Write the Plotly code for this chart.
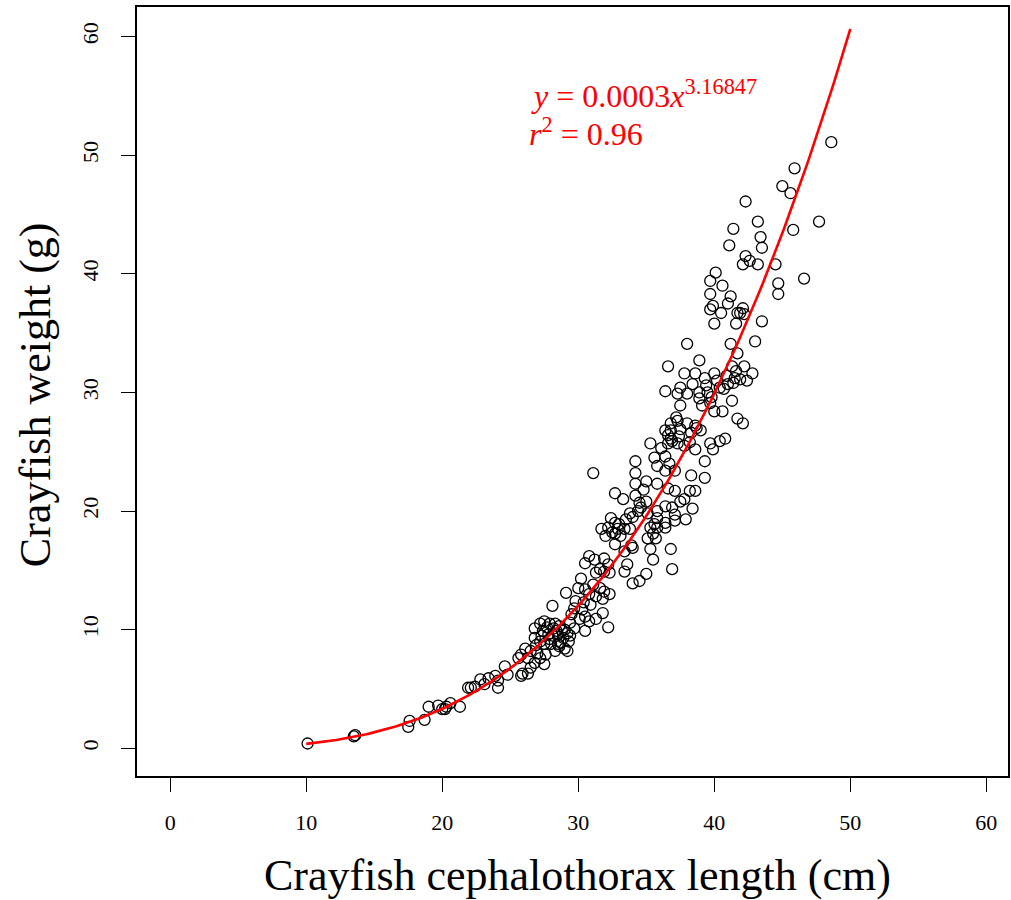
import plotly.graph_objects as go

LENGTH_CM = [
    10.1, 13.5, 13.6, 17.6, 17.5, 18.7, 19.0, 19.7, 20.0, 20.2, 20.6, 20.3, 21.3, 21.9, 22.1,
    32.7, 33.4, 34.0, 33.6, 33.4, 34.0, 30.8, 30.5, 31.2, 31.9, 32.2, 31.6, 31.3, 31.9, 32.3,
    30.2, 30.0, 30.5, 31.1, 31.6, 31.9, 32.3, 31.3, 31.8, 29.1, 30.8,
    28.1, 29.7, 30.3, 31.8, 30.5, 30.1, 30.8, 31.3, 32.2, 30.5, 29.7,
    26.8, 27.2, 27.5, 27.9, 28.3, 28.6, 29.0, 27.4, 27.8, 28.1, 28.5, 28.9, 29.2, 29.4,
    26.8, 27.2, 27.5, 28.0, 28.5, 29.0, 29.2, 26.5, 27.0, 27.6, 28.3,
    26.1, 25.8, 25.6, 26.3, 26.8, 27.5, 27.2, 26.5, 24.6, 24.8, 25.9, 26.3, 25.8,
    23.4, 23.9, 24.1, 22.8, 22.4, 23.1, 24.1,
    35.3, 36.1, 36.6, 37.3, 38.6, 31.1, 34.2, 34.2, 35.6, 36.4, 35.8, 36.4, 36.7, 37.1,
    39.3, 38.3, 39.3, 34.2, 35.0, 35.8, 36.6, 37.1, 38.2, 38.6, 32.7, 33.3, 34.2, 34.5,
    35.0, 34.6, 33.8, 35.1, 35.8, 36.4, 36.9, 37.1, 37.5, 37.8, 38.4, 37.9, 37.1, 35.8,
    35.6, 35.3, 35.8, 35.5, 35.1, 35.7, 36.4, 36.4, 32.4, 32.7, 31.7, 32.2, 32.9, 33.4,
    32.0, 32.7, 33.1, 33.8, 35.3, 35.5, 36.8, 36.9, 35.0, 34.5,
    38.0, 41.2, 43.0, 41.7, 36.6, 38.9, 37.8, 38.6, 39.3, 40.0, 41.3, 41.6, 42.2, 42.8,
    41.5, 41.9, 42.4, 36.4, 37.5, 37.3, 38.0, 38.4, 38.9, 39.5, 40.4, 40.7, 41.0, 37.5,
    38.9, 39.1, 39.7, 40.0, 40.6, 41.3, 41.7, 42.1, 36.8, 37.3, 38.0, 38.6, 39.0, 36.4,
    36.8, 37.5, 38.3, 36.8, 39.7, 40.4, 40.8, 39.9,
    42.3, 42.6, 42.1, 43.2, 44.5, 40.1, 39.7, 40.6, 44.7, 44.7, 46.6, 39.7, 41.2, 39.9,
    39.7, 40.5, 41.0, 41.7, 42.1, 41.9, 42.2, 40.0, 41.6, 43.5,
    45.9, 45.0, 45.6, 42.3, 47.7, 43.2, 41.4, 45.8, 43.4, 41.1, 43.5, 48.6,
    # points hidden inside the densest clusters (estimated)
    27.9, 28.4, 28.7, 27.3, 28.2, 28.8, 27.7, 29.3, 26.9, 28.6,
    33.0, 33.5, 32.5, 34.0, 34.8, 34.4, 33.9,
    36.9, 37.4, 37.8, 38.2, 36.6, 37.2, 38.7,
    39.4, 40.2, 40.9, 41.4, 39.8,
    29.8, 30.4, 29.5, 30.9, 29.4,
]
WEIGHT_G = [
    0.4, 1.0, 1.1, 2.3, 1.8, 2.4, 3.5, 3.6, 3.3, 3.3, 3.8, 3.5, 3.5, 5.1, 5.1,
    17.2, 16.6, 16.9, 15.5, 14.9, 13.9, 16.2, 15.6, 15.9, 16.0, 15.5, 15.1, 14.8, 14.9, 14.8,
    14.3, 13.5, 13.4, 13.8, 13.5, 13.2, 13.0, 12.8, 12.6, 13.1, 13.0,
    12.0, 11.8, 11.7, 11.4, 11.1, 10.9, 10.7, 10.9, 10.2, 9.9, 10.1,
    10.1, 10.5, 10.7, 10.5, 10.5, 10.3, 10.0, 9.9, 9.6, 9.5, 9.6, 9.3, 9.7, 9.5,
    9.3, 9.0, 8.8, 8.8, 8.8, 8.4, 8.2, 8.2, 8.0, 7.9, 8.2,
    8.4, 7.9, 7.6, 7.6, 7.2, 7.1, 7.6, 6.8, 6.9, 6.2, 6.3, 6.3, 6.1,
    5.9, 6.1, 5.7, 5.8, 5.2, 5.4, 5.1,
    25.7, 25.3, 25.7, 25.7, 25.2, 23.2, 24.2, 23.2, 24.5, 24.6, 23.8, 23.4, 24.0, 23.4,
    24.2, 23.0, 22.8, 22.3, 22.5, 22.3, 21.9, 21.7, 21.7, 21.7, 21.5, 21.0, 21.3, 20.7,
    20.8, 20.3, 19.8, 19.8, 20.0, 20.4, 20.3, 19.7, 20.8, 21.0, 20.2, 19.3, 19.2, 19.4,
    18.9, 18.6, 18.6, 18.1, 17.7, 17.7, 18.6, 19.0, 19.4, 19.0, 18.5, 18.6, 18.5, 18.5,
    17.9, 18.1, 17.9, 18.5, 16.8, 15.9, 16.8, 15.1, 14.7, 14.1,
    34.1, 34.1, 34.3, 33.3, 32.2, 32.7, 31.6, 31.6, 31.2, 31.6, 32.2, 31.8, 32.2, 31.6,
    31.2, 31.1, 31.0, 30.1, 30.4, 29.9, 29.9, 30.7, 30.0, 30.0, 30.4, 30.3, 30.7, 28.9,
    29.5, 28.9, 29.1, 28.4, 28.4, 29.3, 27.8, 27.4, 27.4, 27.6, 27.4, 27.2, 26.8, 26.8,
    26.8, 26.9, 26.6, 26.1, 25.7, 25.9, 26.1, 25.2,
    41.5, 41.1, 40.8, 40.8, 40.8, 40.1, 39.4, 39.0, 39.2, 38.3, 39.6, 38.3, 38.1, 37.3,
    37.0, 36.7, 37.5, 36.7, 37.1, 36.7, 36.6, 35.8, 35.8, 36.0,
    48.9, 47.4, 46.8, 46.1, 44.4, 44.4, 43.8, 43.7, 43.1, 42.4, 42.2, 51.1,
    9.2, 9.9, 8.9, 9.5, 10.1, 9.9, 10.2, 9.0, 8.7, 8.6,
    18.9, 19.3, 18.2, 19.5, 21.8, 20.0, 17.1,
    25.9, 26.3, 25.5, 25.8, 26.4, 27.9, 27.0,
    30.6, 31.0, 31.4, 30.8, 29.6,
    12.4, 12.3, 11.3, 12.1, 10.6,
]

# Fitted power model y = a * x^b (b from the printed equation; a unrounded)
FIT_A = 0.000251
FIT_B = 3.16847
FIT_X_START = 10
FIT_X_END = 50

X_TICKS = [0, 10, 20, 30, 40, 50, 60]
Y_TICKS = [0, 10, 20, 30, 40, 50, 60]

n_fit = 200
fit_x = [FIT_X_START + (FIT_X_END - FIT_X_START) * i / (n_fit - 1) for i in range(n_fit)]
fit_y = [FIT_A * xv ** FIT_B for xv in fit_x]

SERIF = "Liberation Serif, Times New Roman, serif"

fig = go.Figure()
fig.add_trace(go.Scatter(
    x=LENGTH_CM, y=WEIGHT_G, mode="markers",
    marker=dict(symbol="circle-open", size=11, color="black", line=dict(width=1.3, color="black")),
    showlegend=False, hoverinfo="skip",
))
fig.add_trace(go.Scatter(
    x=fit_x, y=fit_y, mode="lines",
    line=dict(color="#ff0000", width=2.6),
    showlegend=False, hoverinfo="skip",
))

axis_common = dict(
    showgrid=False, zeroline=False, showline=True, mirror=True,
    linecolor="black", linewidth=1.6,
    ticks="outside", ticklen=14, tickwidth=1.3, tickcolor="black",
    tickfont=dict(family=SERIF, size=22, color="black"),
)
fig.update_xaxes(range=[-2.44, 61.59], tickvals=X_TICKS, ticktext=[str(v) for v in X_TICKS],
                 ticklabelstandoff=12, **axis_common)
fig.update_yaxes(range=[-2.34, 62.5], tickvals=Y_TICKS, ticktext=[str(v) for v in Y_TICKS],
                 tickangle=-90, ticklabelstandoff=14, **axis_common)

fig.add_annotation(
    xref="paper", yref="paper", x=0.5057, y=-0.129, xanchor="center", yanchor="middle",
    text="Crayfish cephalothorax length (cm)", showarrow=False,
    font=dict(family=SERIF, size=44, color="black"),
)
fig.add_annotation(
    xref="paper", yref="paper", x=-0.117, y=0.4954, xanchor="center", yanchor="middle",
    text="Crayfish weight (g)", textangle=-90, showarrow=False,
    font=dict(family=SERIF, size=44, color="black"),
)
fig.add_annotation(
    xref="x", yref="y", x=26.4, y=55.2, xanchor="left", yanchor="middle",
    text="<i>y</i> = 0.0003<i>x</i><sup>3.16847</sup>", showarrow=False,
    font=dict(family=SERIF, size=32, color="#ff0000"),
)
fig.add_annotation(
    xref="x", yref="y", x=26.2, y=51.95, xanchor="left", yanchor="middle",
    text="<i>r</i><sup>2</sup> = 0.96", showarrow=False,
    font=dict(family=SERIF, size=32, color="#ff0000"),
)

fig.update_layout(
    width=1011, height=900,
    margin=dict(l=137, r=1, t=7, b=124),
    paper_bgcolor="white", plot_bgcolor="white",
)

fig.write_html("out.html")
